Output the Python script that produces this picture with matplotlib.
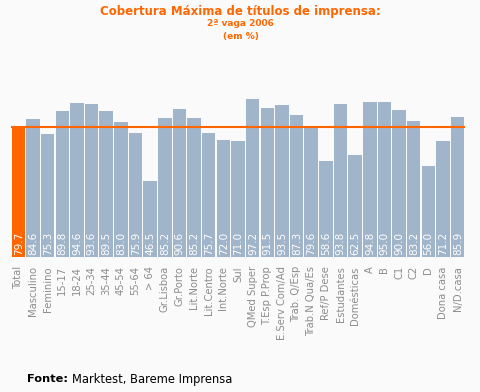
import numpy as np
import matplotlib.pyplot as plt

categories = ["Total", "Masculino", "Feminino", "15-17", "18-24", "25-34", "35-44",
              "45-54", "55-64", "> 64", "Gr.Lisboa", "Gr.Porto", "Lit.Norte",
              "Lit.Centro", "Int.Norte", "Sul", "QMed Super", "T.Esp P.Prop",
              "E.Serv Com/Ad", "Trab. Q/Esp", "Trab.N Qua/Es", "Ref/P Dese",
              "Estudantes", "Domésticas", "A", "B", "C1", "C2", "D", "Dona casa",
              "N/D.casa"]
values = [79.7, 84.6, 75.3, 89.8, 94.6, 93.6, 89.5, 83.0, 75.9, 46.5, 85.2, 90.6,
          85.2, 75.7, 72.0, 71.0, 97.2, 91.5, 93.5, 87.3, 79.6, 58.6, 93.8, 62.5,
          94.8, 95.0, 90.0, 83.2, 56.0, 71.2, 85.9]
total_value = values[0]

bg = "#fafafa"
orange = "#ff6600"
blue = "#a0b4ca"

fig = plt.figure(figsize=(4.81, 3.92), dpi=100, facecolor=bg)
ax = fig.add_axes([11 / 481, 1 - 256.5 / 392, 454 / 481, 162.5 / 392])
ax.set_facecolor(bg)

x = np.arange(len(categories))
colors = [orange] + [blue] * (len(categories) - 1)
ax.bar(x, values, width=0.92, color=colors, align="center")
ax.axhline(total_value, color=orange, lw=1.5)

# value labels sit at the foot of each bar
for xi, v in zip(x, values):
    ax.text(xi + 0.02, 1.2, f"{v:.1f}", rotation=90, ha="center", va="bottom",
            color="white", fontsize=7.5)

ax.set_xlim(-0.5, len(categories) - 0.5)
ax.set_ylim(0, 100)
ax.set_xticks(x)
ax.set_xticklabels(categories, rotation=90, fontsize=7.2, color="#8c8c8c")
ax.tick_params(axis="x", length=0, pad=7)
ax.set_yticks([])
for s in ax.spines.values():
    s.set_visible(False)

fig.text(0.5, 1 - 11 / 392, "Cobertura Máxima de títulos de imprensa:", ha="center",
         va="center", color=orange, fontsize=8.5, fontweight="bold")
fig.text(0.5, 1 - 24 / 392, "2ª vaga 2006", ha="center", va="center", color=orange,
         fontsize=6.5, fontweight="bold")
fig.text(0.5, 1 - 36 / 392, "(em %)", ha="center", va="center", color=orange,
         fontsize=6.5, fontweight="bold")

fig.text(27 / 481, 1 - 379 / 392, "Fonte:", ha="left", va="center", color="black",
         fontsize=8.2, fontweight="bold")
fig.text(72 / 481, 1 - 379 / 392, "Marktest, Bareme Imprensa", ha="left", va="center",
         color="black", fontsize=8.3)

fig.savefig("out.png", dpi=100, facecolor=bg)
